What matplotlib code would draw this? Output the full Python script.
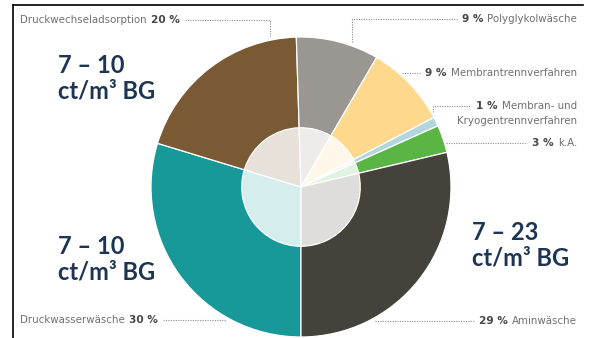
import matplotlib
matplotlib.use("Agg")
import matplotlib.pyplot as plt
from matplotlib.colors import to_rgb
from matplotlib.lines import Line2D

# Biogas upgrading methods: market share (%) in clockwise order from 6 o'clock
methods = ["Druckwasserwäsche", "Druckwechseladsorption", "Polyglykolwäsche",
           "Membrantrennverfahren", "Membran- und\nKryogentrennverfahren",
           "k.A.", "Aminwäsche"]
shares = [30, 20, 9, 9, 1, 3, 29]
colors = ["#17999a", "#7a5a34", "#9a9792", "#fdd88d", "#b2d6dc", "#5bb545", "#45423c"]

# Cost ranges per group of methods
cost_labels = ["7 – 10\nct/m³ BG", "7 – 10\nct/m³ BG", "7 – 23\nct/m³ BG"]

W, H = 590, 338
fig = plt.figure(figsize=(W / 100, H / 100), dpi=100)
ax = fig.add_axes([0, 0, 1, 1])

cx, cy, R = 301, H - 187, 150


def lighten(c, f=0.82):
    r, g, b = to_rgb(c)
    return (r + (1 - r) * f, g + (1 - g) * f, b + (1 - b) * f)


ax.pie(shares, colors=colors, startangle=270, counterclock=False,
       center=(cx, cy), radius=R,
       wedgeprops=dict(edgecolor="white", linewidth=0.9))
ax.pie(shares, colors=[lighten(c) for c in colors], startangle=270, counterclock=False,
       center=(cx, cy), radius=R * 0.395,
       wedgeprops=dict(edgecolor="white", linewidth=0.9))

ax.set_xlim(0, W)
ax.set_ylim(0, H)
ax.set_aspect("equal")
ax.set_axis_off()

# Frame lines (top and left)
fig.add_artist(Line2D([13 / W, 583 / W], [1 - 5 / H, 1 - 5 / H], color="black", lw=1.2))
fig.add_artist(Line2D([13 / W, 13 / W], [0, 1 - 5 / H], color="black", lw=1.2))

# Cost annotations
big = dict(fontsize=17, fontweight="bold", color="#1d3453", family="Lato",
           linespacing=1.12, va="top", ha="left")
ax.text(58, H - 54, cost_labels[0], **big)
ax.text(58, H - 235, cost_labels[1], **big)
ax.text(472, H - 221, cost_labels[2], **big)

txt = dict(fontsize=7.4, color="#707070", family="DejaVu Sans", va="baseline",
           linespacing=1.3)
pct = dict(fontsize=7.6, color="#474747", family="DejaVu Sans", fontweight="bold",
           va="baseline")
dot = dict(color="#8a8a8a", lw=0.8, linestyle=(0, (1, 1.2)))

renderer = fig.canvas.get_renderer()
GAP = 4


def y(v):
    return H - v


def width_px(artist):
    return artist.get_window_extent(renderer).width


def left_label(name, share, x0, yb):
    t = ax.text(x0, y(yb), name, ha="left", **txt)
    p = ax.text(x0 + width_px(t) + GAP, y(yb), f"{share} %", ha="left", **pct)
    return p.get_window_extent(renderer).x1 + 5


def right_label(name, share, x1, yb):
    t = ax.text(x1, y(yb), name, ha="right", **txt)
    p = ax.text(x1 - width_px(t) - GAP, y(yb), f"{share} %", ha="right", **pct)
    return p.get_window_extent(renderer).x0 - 5


# Left side labels
xs = left_label(methods[1], shares[1], 20, 23)
ax.plot([xs, 270, 270], [y(20), y(20), y(36)], **dot)

xs = left_label(methods[0], shares[0], 20, 323)
ax.plot([xs, 226], [y(320), y(320)], **dot)

# Right side labels
xe = right_label(methods[2], shares[2], 577, 22)
ax.plot([352, 352, xe], [y(42), y(19), y(19)], **dot)

xe = right_label(methods[3], shares[3], 577, 76)
ax.plot([402, xe], [y(73), y(73)], **dot)

# two-line label: percentage sits on the first line
first, second = methods[4].split("\n")
ax.text(577, y(124), second, ha="right", **txt)
xe = right_label(first, shares[4], 577, 109)
ax.plot([433, 433, xe], [y(112), y(106), y(106)], **dot)

xe = right_label(methods[5], shares[5], 577, 146)
ax.plot([446, xe], [y(143), y(143)], **dot)

xe = right_label(methods[6], shares[6], 577, 324)
ax.plot([375, xe], [y(321), y(321)], **dot)

fig.savefig("out.png", dpi=100, facecolor="white")
